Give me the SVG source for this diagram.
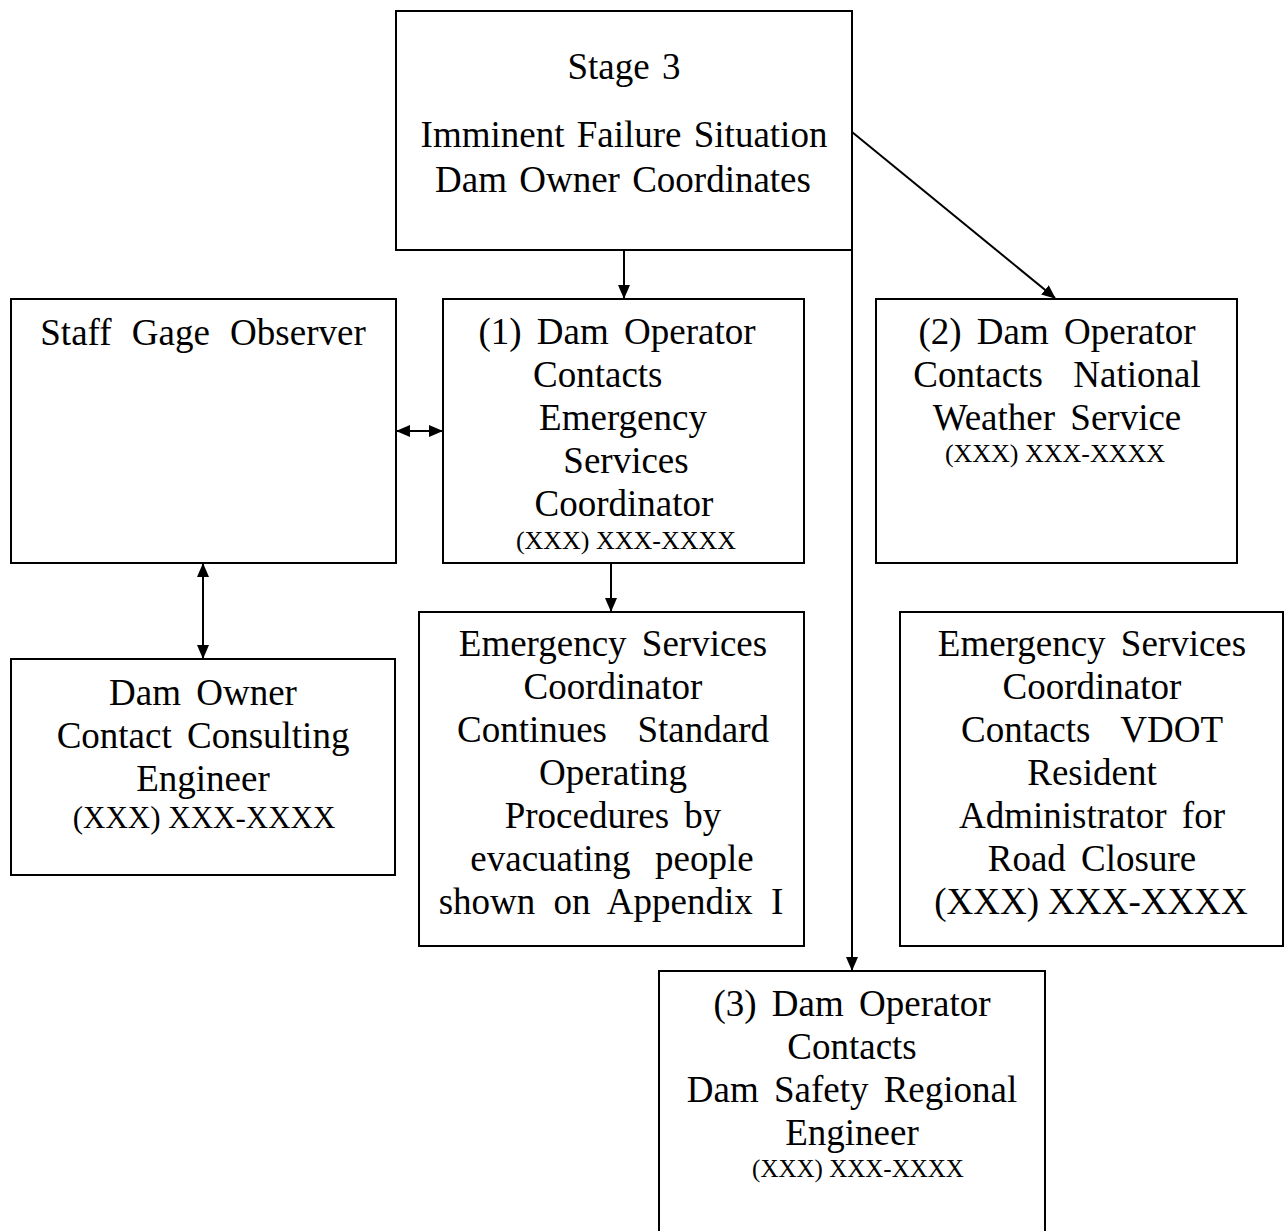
<svg xmlns="http://www.w3.org/2000/svg" width="1284" height="1231" viewBox="0 0 1284 1231">
<style>
.b{fill:#fff;stroke:#000;stroke-width:2}
.t{font-family:"Liberation Serif","Times New Roman",serif;font-size:37px;fill:#000;text-anchor:middle;word-spacing:6px}
.st{word-spacing:3px}
.s{font-size:26px;word-spacing:0}
.m{font-size:31px;word-spacing:0}
.l{text-anchor:start}
.c{stroke:#000;stroke-width:2;fill:none}
</style>
<defs>
<marker id="ah" viewBox="0 0 14 12" refX="13" refY="6" markerWidth="14" markerHeight="12" markerUnits="userSpaceOnUse" orient="auto-start-reverse"><path d="M0,0 L14,6 L0,12 z" fill="#000"/></marker>
</defs>
<rect width="1284" height="1231" fill="#fff"/>
<g id="n0"><rect class="b" x="396" y="11" width="456" height="239"/>
<text class="t st"><tspan x="624" y="79">Stage 3</tspan><tspan x="624" y="147">Imminent Failure Situation</tspan><tspan x="623" y="192">Dam Owner Coordinates</tspan></text></g>
<g id="n1"><rect class="b" x="11" y="299" width="385" height="264"/>
<text class="t" style="word-spacing:11px"><tspan x="203" y="345">Staff Gage Observer</tspan></text></g>
<g id="n2"><rect class="b" x="443" y="299" width="361" height="264"/>
<text class="t"><tspan x="617" y="344">(1) Dam Operator</tspan><tspan class="l" x="533" y="387">Contacts</tspan><tspan x="623" y="430">Emergency</tspan><tspan x="626" y="473">Services</tspan><tspan x="624" y="516">Coordinator</tspan><tspan class="s" x="626" y="549">(XXX) XXX-XXXX</tspan></text></g>
<g id="n3"><rect class="b" x="876" y="299" width="361" height="264"/>
<text class="t"><tspan x="1057" y="344">(2) Dam Operator</tspan><tspan x="1057" y="387">Contacts&#160; National</tspan><tspan x="1057" y="430">Weather Service</tspan><tspan class="s" x="1055" y="462">(XXX) XXX-XXXX</tspan></text></g>
<g id="n4"><rect class="b" x="11" y="659" width="384" height="216"/>
<text class="t"><tspan x="203" y="705">Dam Owner</tspan><tspan x="203" y="748">Contact Consulting</tspan><tspan x="203" y="791">Engineer</tspan><tspan class="m" x="204" y="828">(XXX) XXX-XXXX</tspan></text></g>
<g id="n5"><rect class="b" x="419" y="612" width="385" height="334"/>
<text class="t"><tspan x="613" y="656">Emergency Services</tspan><tspan x="613" y="699">Coordinator</tspan><tspan x="613" y="742">Continues&#160; Standard</tspan><tspan x="613" y="785">Operating</tspan><tspan x="613" y="828">Procedures by</tspan><tspan x="612" y="871" style="word-spacing:3px">evacuating&#160; people</tspan><tspan x="611" y="914" style="word-spacing:9px">shown on Appendix I</tspan></text></g>
<g id="n6"><rect class="b" x="900" y="612" width="383" height="334"/>
<text class="t"><tspan x="1092" y="656">Emergency Services</tspan><tspan x="1092" y="699">Coordinator</tspan><tspan x="1092" y="742">Contacts&#160; VDOT</tspan><tspan x="1092" y="785">Resident</tspan><tspan x="1092" y="828">Administrator for</tspan><tspan x="1092" y="871">Road Closure</tspan><tspan x="1091" y="914" style="word-spacing:0">(XXX) XXX-XXXX</tspan></text></g>
<g id="n7"><rect class="b" x="659" y="971" width="386" height="262"/>
<text class="t"><tspan x="852" y="1016">(3) Dam Operator</tspan><tspan x="852" y="1059">Contacts</tspan><tspan x="852" y="1102">Dam Safety Regional</tspan><tspan x="852" y="1145">Engineer</tspan><tspan class="s" x="858" y="1177" style="font-size:25px">(XXX) XXX-XXXX</tspan></text></g>
<g id="connectors">
<line class="c" x1="624" y1="250" x2="624" y2="298" marker-end="url(#ah)"/>
<line class="c" x1="852" y1="132" x2="1055" y2="298" marker-end="url(#ah)"/>
<line class="c" x1="852" y1="250" x2="852" y2="970" marker-end="url(#ah)"/>
<line class="c" x1="397" y1="431" x2="442" y2="431" marker-start="url(#ah)" marker-end="url(#ah)"/>
<line class="c" x1="203" y1="564" x2="203" y2="658" marker-start="url(#ah)" marker-end="url(#ah)"/>
<line class="c" x1="611" y1="563" x2="611" y2="611" marker-end="url(#ah)"/>
</g>
</svg>
